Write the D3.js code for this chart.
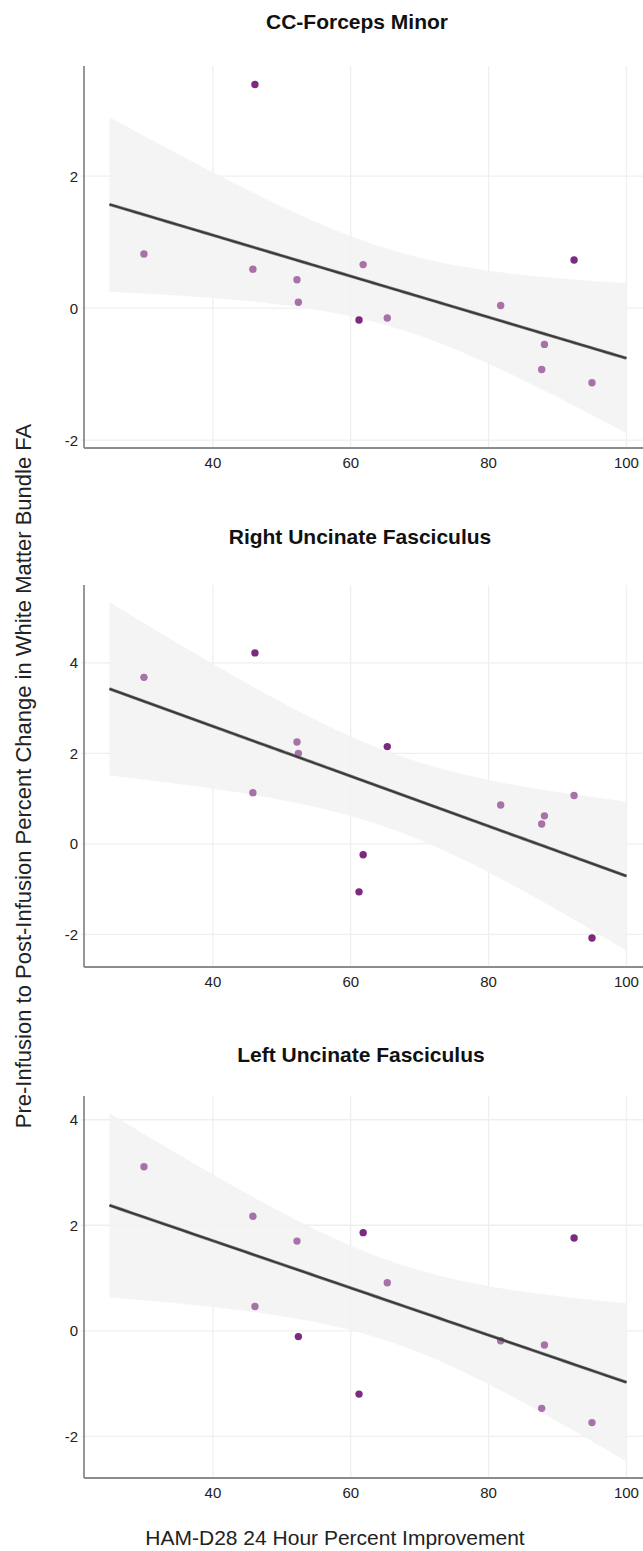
<!DOCTYPE html>
<html><head><meta charset="utf-8">
<script src="https://cdn.jsdelivr.net/npm/d3@7"></script>
<style>body{margin:0;background:#fff} svg{display:block;font-family:"Liberation Sans",Arial,sans-serif}</style>
</head><body>
<svg id="chart" width="643" height="1551"></svg>
<script>
// ---- data ----
const improvement = [30.0, 46.1, 45.8, 52.2, 52.4, 61.2, 61.8, 65.3, 81.75, 87.7, 88.1, 92.4, 95.0];
const panelTitles = ["CC-Forceps Minor", "Right Uncinate Fasciculus", "Left Uncinate Fasciculus"];
const ccForcepsMinor = [0.82, 3.39, 0.59, 0.43, 0.09, -0.18, 0.66, -0.15, 0.04, -0.93, -0.55, 0.73, -1.13];
const rightUncinate  = [3.68, 4.22, 1.13, 2.25, 2.00, -1.06, -0.24, 2.15, 0.86, 0.44, 0.62, 1.07, -2.08];
const leftUncinate   = [3.11, 0.46, 2.17, 1.70, -0.11, -1.20, 1.86, 0.91, -0.19, -1.47, -0.27, 1.76, -1.74];
const ccDark    = [0,1,0,0,0,1,0,0,0,0,0,1,0];
const rightDark = [0,1,0,0,0,1,1,1,0,0,0,0,1];
const leftDark  = [0,0,0,0,1,1,1,0,0,0,0,1,0];
const xTicks = [40, 60, 80, 100];
const yTicks = [[-2, 0, 2], [-2, 0, 2, 4], [-2, 0, 2, 4]];
const xDomain = [21.3, 102.4];
const yDomains = [[-2.12, 3.67], [-2.72, 5.72], [-2.79, 4.45]];
const fitRange = [25, 100];
const xLabel = "HAM-D28 24 Hour Percent Improvement";
const yLabel = "Pre-Infusion to Post-Infusion Percent Change in White Matter Bundle FA";

// ---- layout ----
const svg = d3.select("#chart");
const left = 84, right = 643;
const panelTops = [66, 585, 1096];
const panelH = 382;
const titleY = [28.5, 544, 1062];
const titleX = [357, 360, 361];
const series = [ccForcepsMinor, rightUncinate, leftUncinate];
const darks = [ccDark, rightDark, leftDark];
const tCrit = 2.201; // df = 11, 95%

const defs = svg.append("defs");
const f = defs.append("filter").attr("id","soft").attr("x","-5%").attr("y","-50%").attr("width","110%").attr("height","200%");
f.append("feGaussianBlur").attr("stdDeviation", 0.7);

const x = d3.scaleLinear().domain(xDomain).range([left, right]);

series.forEach((ys, p) => {
  const top = panelTops[p], bottom = top + panelH;
  const y = d3.scaleLinear().domain(yDomains[p]).range([bottom, top]);
  const g = svg.append("g");

  // grid
  g.selectAll(".vg").data(xTicks).join("line")
    .attr("x1", d => x(d)).attr("x2", d => x(d)).attr("y1", top).attr("y2", bottom)
    .attr("stroke", "#efeff1").attr("stroke-width", 1.3);
  g.selectAll(".hg").data(yTicks[p]).join("line")
    .attr("x1", left - 3).attr("x2", right).attr("y1", d => y(d)).attr("y2", d => y(d))
    .attr("stroke", "#efeff1").attr("stroke-width", 1.3);

  // regression (linear fit with 95% confidence band)
  const n = ys.length;
  const mx = d3.mean(improvement), my = d3.mean(ys);
  let sxx = 0, sxy = 0;
  improvement.forEach((xv, i) => { sxx += (xv - mx) ** 2; sxy += (xv - mx) * (ys[i] - my); });
  const b = sxy / sxx, a = my - b * mx;
  let sse = 0;
  improvement.forEach((xv, i) => { sse += (ys[i] - (a + b * xv)) ** 2; });
  const s = Math.sqrt(sse / (n - 2));
  const grid = d3.range(0, 101).map(k => fitRange[0] + (fitRange[1] - fitRange[0]) * k / 100);
  const band = grid.map(xv => {
    const fit = a + b * xv;
    const se = s * Math.sqrt(1 / n + (xv - mx) ** 2 / sxx);
    return { x: xv, lo: fit - tCrit * se, hi: fit + tCrit * se, fit };
  });
  g.append("path").datum(band)
    .attr("d", d3.area().x(d => x(d.x)).y0(d => y(d.lo)).y1(d => y(d.hi)))
    .attr("fill", "#f2f2f2").attr("fill-opacity", 0.85);

  // axes
  g.append("line").attr("x1", left).attr("x2", left).attr("y1", top).attr("y2", bottom)
    .attr("stroke", "#8c8c8c").attr("stroke-width", 1.8);
  g.append("line").attr("x1", left).attr("x2", right).attr("y1", bottom).attr("y2", bottom)
    .attr("stroke", "#8c8c8c").attr("stroke-width", 1.8);

  g.selectAll(".xt").data(xTicks).join("text")
    .attr("x", d => x(d)).attr("y", bottom + 20).attr("text-anchor", "middle")
    .attr("font-size", 15).attr("fill", "#222").text(d => d);
  g.selectAll(".yt").data(yTicks[p]).join("text")
    .attr("x", left - 6).attr("y", d => y(d) + 5.5).attr("text-anchor", "end")
    .attr("font-size", 15).attr("fill", "#222").text(d => d);

  // points
  g.selectAll(".pt").data(improvement.map((xv, i) => ({ x: xv, y: ys[i], dark: darks[p][i] })))
    .join("circle")
    .attr("cx", d => x(d.x)).attr("cy", d => y(d.y)).attr("r", 3.7)
    .attr("fill", d => d.dark ? "#7b2a7f" : "#a872a9");

  // fit line
  const line = d3.line().x(d => x(d.x)).y(d => y(d.fit));
  g.append("path").datum(band).attr("d", line).attr("fill", "none")
    .attr("stroke", "#555").attr("stroke-width", 3.2).attr("filter", "url(#soft)").attr("opacity", 0.75);
  g.append("path").datum(band).attr("d", line).attr("fill", "none")
    .attr("stroke", "#383838").attr("stroke-width", 1.8);

  // title
  svg.append("text").attr("x", titleX[p]).attr("y", titleY[p]).attr("text-anchor", "middle")
    .attr("font-size", 21).attr("font-weight", "bold").attr("fill", "#111").text(panelTitles[p]);
});

svg.append("text").attr("x", 335).attr("y", 1545).attr("text-anchor", "middle")
  .attr("font-size", 21).attr("fill", "#222").text(xLabel);
svg.append("text").attr("transform", "translate(31,776) rotate(-90)").attr("text-anchor", "middle")
  .attr("font-size", 22).attr("fill", "#222").text(yLabel);
</script>
</body></html>
